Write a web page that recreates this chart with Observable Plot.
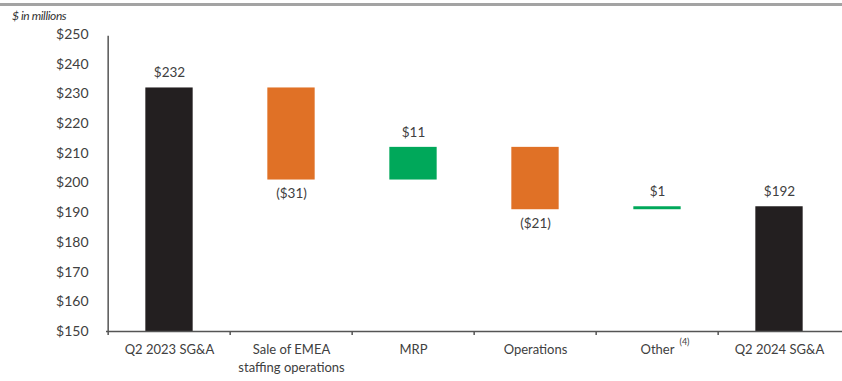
<!DOCTYPE html>
<html>
<head>
<meta charset="utf-8">
<script src="https://cdn.jsdelivr.net/npm/d3@7"></script>
<script src="https://cdn.jsdelivr.net/npm/@observablehq/plot@0.6"></script>
<style>
  body { margin: 0; background: #fff; }
  #wrap { position: relative; width: 842px; height: 381px; font-family: Lato, "Open Sans", sans-serif; }
  #rule { position: absolute; left: 0; top: 3px; width: 842px; height: 3px; background: #a3a3a3; }
  #unit { position: absolute; left: 12px; top: 8px; font-size: 12px; font-style: italic; color: #333; letter-spacing: -0.4px; }
  #chart { position: absolute; left: 0; top: 0; }
</style>
</head>
<body>
<div id="wrap">
  <div id="chart"></div>
  <div id="rule"></div>
  <div id="unit">$ in millions</div>
</div>
<script>
const categories = ["Q2 2023 SG&A", "Sale of EMEA\nstaffing operations", "MRP", "Operations", "Other", "Q2 2024 SG&A"];
const footnotes = ["", "", "", "", "(4)", ""];
const values = [232, -31, 11, -21, 1, 192];
const kinds = ["total", "delta", "delta", "delta", "delta", "total"];
const valueLabels = ["$232", "($31)", "$11", "($21)", "$1", "$192"];
const yTicks = [150, 160, 170, 180, 190, 200, 210, 220, 230, 240, 250];

const colors = { total: "#231f20", down: "#e07126", up: "#00a85a" };

let running = 0;
const rows = categories.map((c, i) => {
  let y1, y2, kind;
  if (kinds[i] === "total") { y1 = 150; y2 = values[i]; running = values[i]; kind = "total"; }
  else { y1 = running; y2 = running + values[i]; running = y2; kind = values[i] < 0 ? "down" : "up"; }
  return { cat: c, y1, y2, top: Math.max(y1, y2), bottom: Math.min(y1, y2), kind, label: valueLabels[i], note: footnotes[i] };
});

const W = 842, ML = 106, MR = 0;
const band = (W - ML - MR) / categories.length;
const barW = 48;
const inset = (band - barW) / 2;
const textColor = "#404040";

const chart = Plot.plot({
  width: W, height: 381,
  marginLeft: ML, marginRight: MR, marginTop: 34, marginBottom: 50,
  style: { fontFamily: "Lato, 'Open Sans', sans-serif", fontSize: "13px", color: textColor },
  x: { domain: categories, padding: 0 },
  y: { domain: [150, 250] },
  color: { domain: ["total", "down", "up"], range: [colors.total, colors.down, colors.up] },
  marks: [
    Plot.barY(rows, { x: "cat", y1: "y1", y2: "y2", fill: "kind", insetLeft: inset, insetRight: inset }),
    Plot.text(rows.filter(d => d.kind !== "down"), { x: "cat", y: "top", text: "label", dy: -15, fontSize: 13.5, fill: textColor }),
    Plot.text(rows.filter(d => d.kind === "down"), { x: "cat", y: "bottom", text: "label", dy: 14, fontSize: 13.5, fill: textColor }),
    Plot.ruleY([150], { stroke: "#555", strokeWidth: 1.5 }),
    Plot.ruleX(categories, { x: d => d, y1: 150, y2: 150, insetBottom: -4, dx: -band / 2, stroke: "#555", strokeWidth: 1.5 }),
    Plot.ruleX([categories[0]], { x: d => d, y1: 150, y2: 249.4, dx: -band / 2, stroke: "#555", strokeWidth: 1.5 }),
    Plot.axisY({ ticks: yTicks, tickSize: 0, tickPadding: 18, tickFormat: d => "$" + d, fontSize: 14, fill: textColor }),
    Plot.axisX({ tickSize: 0, tickPadding: 10, lineHeight: 1.35, fontSize: 13, fill: textColor, label: null }),
    Plot.text(rows.filter(d => d.note), { x: "cat", y: 150, text: "note", dx: 22, dy: 11, textAnchor: "start", fontSize: 9, fill: textColor })
  ]
});
document.getElementById("chart").appendChild(chart);
</script>
</body>
</html>
